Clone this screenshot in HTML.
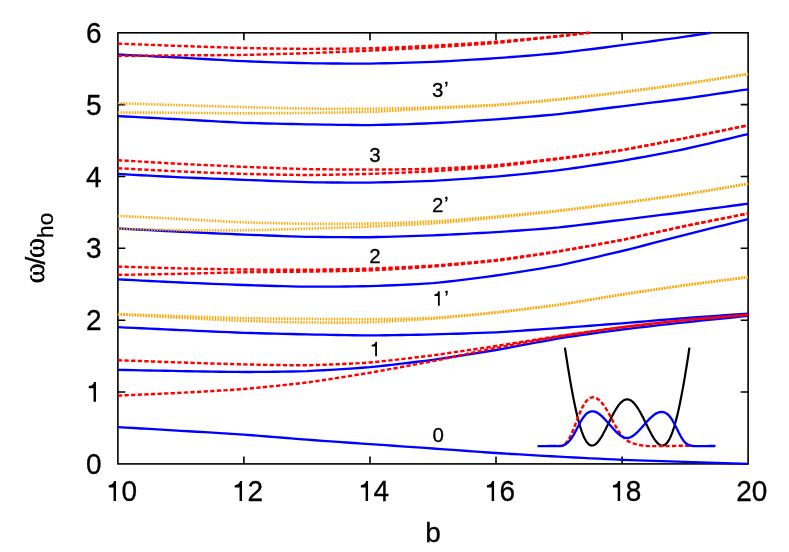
<!DOCTYPE html>
<html><head><meta charset="utf-8"><title>chart</title>
<style>svg text{stroke:#000;stroke-width:0.3px}html,body{margin:0;padding:0;background:#fff}body{width:789px;height:552px;position:relative;overflow:hidden;font-family:"Liberation Sans",sans-serif}</style>
</head><body>
<svg width="789" height="552" viewBox="0 0 789 552" style="position:absolute;left:0;top:0;will-change:transform">
<g stroke="#000" stroke-width="1.6" fill="none">
<rect x="117.9" y="32.8" width="630.2" height="431.1"/>
<path d="M117.9,392.0h7.4 M748.1,392.0h-7.4 M117.9,320.2h7.4 M748.1,320.2h-7.4 M117.9,248.3h7.4 M748.1,248.3h-7.4 M117.9,176.5h7.4 M748.1,176.5h-7.4 M117.9,104.6h7.4 M748.1,104.6h-7.4 M243.9,463.9v-7.4 M243.9,32.8v7.4 M370.0,463.9v-7.4 M370.0,32.8v7.4 M496.0,463.9v-7.4 M496.0,32.8v7.4 M622.1,463.9v-7.4 M622.1,32.8v7.4 "/>
</g>
<g fill="none" stroke-linejoin="round">
<polyline points="117.9,54.50 125.8,54.90 133.7,55.30 141.5,55.69 149.4,56.09 157.3,56.49 165.2,56.89 173.0,57.29 180.9,57.70 188.8,58.14 196.7,58.58 204.6,59.04 212.4,59.49 220.3,59.94 228.2,60.38 236.1,60.80 243.9,61.20 251.8,61.50 259.7,61.78 267.6,62.05 275.4,62.31 283.3,62.55 291.2,62.78 299.1,63.00 307.0,63.20 314.8,63.30 322.7,63.39 330.6,63.47 338.5,63.53 346.3,63.57 354.2,63.60 362.1,63.61 370.0,63.60 377.9,63.45 385.7,63.28 393.6,63.10 401.5,62.89 409.4,62.67 417.2,62.43 425.1,62.17 433.0,61.90 440.9,61.50 448.8,61.07 456.6,60.63 464.5,60.17 472.4,59.70 480.3,59.21 488.1,58.71 496.0,58.20 503.9,57.60 511.8,56.99 519.7,56.37 527.5,55.74 535.4,55.09 543.3,54.42 551.2,53.72 559.0,53.00 566.9,52.10 574.8,51.16 582.7,50.20 590.6,49.21 598.4,48.22 606.3,47.21 614.2,46.20 622.1,45.20 629.9,44.16 637.8,43.12 645.7,42.07 653.6,41.02 661.4,39.96 669.3,38.88 677.2,37.80 685.1,36.70 693.0,35.51 700.8,34.30 708.7,33.08 710.5,32.80" stroke="#0000ff" stroke-width="2.35"/>
<polyline points="117.9,116.10 125.8,116.51 133.7,116.92 141.5,117.34 149.4,117.75 157.3,118.16 165.2,118.57 173.0,118.98 180.9,119.40 188.8,119.83 196.7,120.27 204.6,120.72 212.4,121.16 220.3,121.60 228.2,122.02 236.1,122.42 243.9,122.80 251.8,123.04 259.7,123.26 267.6,123.46 275.4,123.64 283.3,123.81 291.2,123.98 299.1,124.14 307.0,124.30 314.8,124.43 322.7,124.56 330.6,124.69 338.5,124.82 346.3,124.93 354.2,125.01 362.1,125.07 370.0,125.10 377.9,124.94 385.7,124.75 393.6,124.54 401.5,124.31 409.4,124.05 417.2,123.78 425.1,123.50 433.0,123.20 440.9,122.78 448.8,122.34 456.6,121.89 464.5,121.42 472.4,120.93 480.3,120.43 488.1,119.92 496.0,119.40 503.9,118.79 511.8,118.17 519.7,117.53 527.5,116.89 535.4,116.22 543.3,115.54 551.2,114.83 559.0,114.10 566.9,113.19 574.8,112.25 582.7,111.28 590.6,110.29 598.4,109.29 606.3,108.28 614.2,107.28 622.1,106.30 629.9,105.33 637.8,104.37 645.7,103.41 653.6,102.45 661.4,101.48 669.3,100.50 677.2,99.51 685.1,98.50 693.0,97.39 700.8,96.25 708.7,95.11 716.6,93.95 724.5,92.78 732.3,91.62 740.2,90.46 748.1,89.30" stroke="#0000ff" stroke-width="2.35"/>
<polyline points="117.9,174.00 125.8,174.42 133.7,174.84 141.5,175.26 149.4,175.68 157.3,176.09 165.2,176.51 173.0,176.91 180.9,177.30 188.8,177.63 196.7,177.96 204.6,178.27 212.4,178.58 220.3,178.89 228.2,179.19 236.1,179.49 243.9,179.80 251.8,180.11 259.7,180.43 267.6,180.75 275.4,181.07 283.3,181.38 291.2,181.68 299.1,181.95 307.0,182.20 314.8,182.31 322.7,182.40 330.6,182.48 338.5,182.54 346.3,182.58 354.2,182.61 362.1,182.61 370.0,182.60 377.9,182.45 385.7,182.29 393.6,182.11 401.5,181.91 409.4,181.69 417.2,181.45 425.1,181.19 433.0,180.90 440.9,180.44 448.8,179.95 456.6,179.44 464.5,178.91 472.4,178.36 480.3,177.79 488.1,177.20 496.0,176.60 503.9,175.87 511.8,175.12 519.7,174.36 527.5,173.58 535.4,172.77 543.3,171.94 551.2,171.09 559.0,170.20 566.9,169.11 574.8,168.00 582.7,166.85 590.6,165.69 598.4,164.49 606.3,163.28 614.2,162.05 622.1,160.80 629.9,159.40 637.8,157.98 645.7,156.55 653.6,155.09 661.4,153.61 669.3,152.10 677.2,150.57 685.1,149.00 693.0,147.22 700.8,145.39 708.7,143.54 716.6,141.66 724.5,139.76 732.3,137.86 740.2,135.97 748.1,134.10" stroke="#0000ff" stroke-width="2.35"/>
<polyline points="117.9,228.50 125.8,228.91 133.7,229.33 141.5,229.75 149.4,230.17 157.3,230.58 165.2,230.99 173.0,231.40 180.9,231.80 188.8,232.17 196.7,232.53 204.6,232.88 212.4,233.24 220.3,233.59 228.2,233.93 236.1,234.27 243.9,234.60 251.8,234.90 259.7,235.20 267.6,235.49 275.4,235.78 283.3,236.06 291.2,236.33 299.1,236.57 307.0,236.80 314.8,236.91 322.7,237.00 330.6,237.08 338.5,237.14 346.3,237.18 354.2,237.21 362.1,237.21 370.0,237.20 377.9,237.04 385.7,236.85 393.6,236.65 401.5,236.43 409.4,236.19 417.2,235.94 425.1,235.67 433.0,235.40 440.9,235.03 448.8,234.65 456.6,234.26 464.5,233.85 472.4,233.43 480.3,233.00 488.1,232.55 496.0,232.10 503.9,231.56 511.8,231.02 519.7,230.46 527.5,229.90 535.4,229.31 543.3,228.71 551.2,228.07 559.0,227.40 566.9,226.53 574.8,225.61 582.7,224.67 590.6,223.71 598.4,222.73 606.3,221.75 614.2,220.77 622.1,219.80 629.9,218.83 637.8,217.86 645.7,216.90 653.6,215.92 661.4,214.95 669.3,213.97 677.2,212.99 685.1,212.00 693.0,210.98 700.8,209.94 708.7,208.91 716.6,207.87 724.5,206.82 732.3,205.78 740.2,204.74 748.1,203.70" stroke="#0000ff" stroke-width="2.35"/>
<polyline points="117.9,279.40 125.8,279.79 133.7,280.18 141.5,280.58 149.4,280.97 157.3,281.36 165.2,281.75 173.0,282.13 180.9,282.50 188.8,282.83 196.7,283.16 204.6,283.48 212.4,283.80 220.3,284.11 228.2,284.41 236.1,284.71 243.9,285.00 251.8,285.24 259.7,285.49 267.6,285.73 275.4,285.96 283.3,286.17 291.2,286.37 299.1,286.55 307.0,286.70 314.8,286.69 322.7,286.67 330.6,286.62 338.5,286.56 346.3,286.47 354.2,286.37 362.1,286.24 370.0,286.10 377.9,285.82 385.7,285.53 393.6,285.22 401.5,284.89 409.4,284.54 417.2,284.14 425.1,283.70 433.0,283.20 440.9,282.37 448.8,281.49 456.6,280.57 464.5,279.60 472.4,278.60 480.3,277.58 488.1,276.55 496.0,275.50 503.9,274.31 511.8,273.10 519.7,271.87 527.5,270.63 535.4,269.35 543.3,268.04 551.2,266.69 559.0,265.30 566.9,263.63 574.8,261.91 582.7,260.15 590.6,258.36 598.4,256.54 606.3,254.70 614.2,252.85 622.1,251.00 629.9,249.02 637.8,247.02 645.7,244.99 653.6,242.94 661.4,240.90 669.3,238.85 677.2,236.82 685.1,234.80 693.0,232.83 700.8,230.88 708.7,228.93 716.6,226.98 724.5,225.04 732.3,223.09 740.2,221.15 748.1,219.20" stroke="#0000ff" stroke-width="2.35"/>
<polyline points="117.9,327.20 125.8,327.56 133.7,327.93 141.5,328.29 149.4,328.66 157.3,329.02 165.2,329.38 173.0,329.74 180.9,330.10 188.8,330.45 196.7,330.80 204.6,331.15 212.4,331.49 220.3,331.84 228.2,332.17 236.1,332.49 243.9,332.80 251.8,333.03 259.7,333.25 267.6,333.46 275.4,333.66 283.3,333.85 291.2,334.04 299.1,334.22 307.0,334.40 314.8,334.55 322.7,334.70 330.6,334.85 338.5,334.99 346.3,335.12 354.2,335.24 362.1,335.33 370.0,335.40 377.9,335.33 385.7,335.24 393.6,335.13 401.5,335.01 409.4,334.87 417.2,334.72 425.1,334.56 433.0,334.40 440.9,334.17 448.8,333.94 456.6,333.71 464.5,333.46 472.4,333.20 480.3,332.92 488.1,332.62 496.0,332.30 503.9,331.83 511.8,331.34 519.7,330.82 527.5,330.29 535.4,329.75 543.3,329.20 551.2,328.65 559.0,328.10 566.9,327.52 574.8,326.93 582.7,326.33 590.6,325.73 598.4,325.13 606.3,324.52 614.2,323.91 622.1,323.30 629.9,322.66 637.8,322.01 645.7,321.35 653.6,320.69 661.4,320.03 669.3,319.38 677.2,318.73 685.1,318.10 693.0,317.52 700.8,316.95 708.7,316.38 716.6,315.83 724.5,315.27 732.3,314.72 740.2,314.16 748.1,313.60" stroke="#0000ff" stroke-width="2.35"/>
<polyline points="117.9,369.80 125.8,369.96 133.7,370.13 141.5,370.30 149.4,370.46 157.3,370.63 165.2,370.79 173.0,370.95 180.9,371.10 188.8,371.23 196.7,371.36 204.6,371.50 212.4,371.63 220.3,371.74 228.2,371.85 236.1,371.94 243.9,372.00 251.8,371.95 259.7,371.88 267.6,371.81 275.4,371.71 283.3,371.60 291.2,371.46 299.1,371.30 307.0,371.10 314.8,370.70 322.7,370.29 330.6,369.84 338.5,369.37 346.3,368.88 354.2,368.35 362.1,367.79 370.0,367.20 377.9,366.38 385.7,365.52 393.6,364.62 401.5,363.70 409.4,362.76 417.2,361.79 425.1,360.80 433.0,359.80 440.9,358.64 448.8,357.47 456.6,356.27 464.5,355.04 472.4,353.81 480.3,352.55 488.1,351.28 496.0,350.00 503.9,348.59 511.8,347.13 519.7,345.66 527.5,344.17 535.4,342.68 543.3,341.22 551.2,339.79 559.0,338.40 566.9,337.21 574.8,336.05 582.7,334.91 590.6,333.80 598.4,332.70 606.3,331.62 614.2,330.56 622.1,329.50 629.9,328.55 637.8,327.62 645.7,326.71 653.6,325.81 661.4,324.93 669.3,324.05 677.2,323.17 685.1,322.30 693.0,321.48 700.8,320.67 708.7,319.87 716.6,319.07 724.5,318.28 732.3,317.49 740.2,316.70 748.1,315.90" stroke="#0000ff" stroke-width="2.35"/>
<polyline points="117.9,427.10 125.8,427.56 133.7,428.02 141.5,428.49 149.4,428.95 157.3,429.41 165.2,429.87 173.0,430.33 180.9,430.80 188.8,431.27 196.7,431.73 204.6,432.19 212.4,432.65 220.3,433.12 228.2,433.60 236.1,434.09 243.9,434.60 251.8,435.21 259.7,435.83 267.6,436.48 275.4,437.13 283.3,437.78 291.2,438.44 299.1,439.08 307.0,439.70 314.8,440.27 322.7,440.83 330.6,441.38 338.5,441.92 346.3,442.47 354.2,443.01 362.1,443.55 370.0,444.10 377.9,444.65 385.7,445.20 393.6,445.75 401.5,446.30 409.4,446.85 417.2,447.40 425.1,447.95 433.0,448.50 440.9,449.06 448.8,449.63 456.6,450.20 464.5,450.77 472.4,451.34 480.3,451.90 488.1,452.46 496.0,453.00 503.9,453.49 511.8,453.96 519.7,454.43 527.5,454.90 535.4,455.36 543.3,455.81 551.2,456.26 559.0,456.70 566.9,457.11 574.8,457.51 582.7,457.91 590.6,458.31 598.4,458.69 606.3,459.07 614.2,459.44 622.1,459.80 629.9,460.09 637.8,460.36 645.7,460.63 653.6,460.89 661.4,461.14 669.3,461.39 677.2,461.64 685.1,461.90 693.0,462.15 700.8,462.40 708.7,462.65 716.6,462.90 724.5,463.15 732.3,463.40 740.2,463.65 748.1,463.90" stroke="#0000ff" stroke-width="2.35"/>
<polyline points="117.9,43.60 125.8,43.90 133.7,44.21 141.5,44.51 149.4,44.81 157.3,45.12 165.2,45.42 173.0,45.71 180.9,46.00 188.8,46.26 196.7,46.53 204.6,46.79 212.4,47.05 220.3,47.30 228.2,47.55 236.1,47.78 243.9,48.00 251.8,48.15 259.7,48.29 267.6,48.42 275.4,48.54 283.3,48.65 291.2,48.75 299.1,48.83 307.0,48.90 314.8,48.87 322.7,48.83 330.6,48.78 338.5,48.72 346.3,48.64 354.2,48.55 362.1,48.43 370.0,48.30 377.9,48.03 385.7,47.74 393.6,47.44 401.5,47.11 409.4,46.78 417.2,46.43 425.1,46.07 433.0,45.70 440.9,45.25 448.8,44.80 456.6,44.34 464.5,43.86 472.4,43.37 480.3,42.87 488.1,42.34 496.0,41.80 503.9,41.13 511.8,40.44 519.7,39.73 527.5,39.01 535.4,38.27 543.3,37.52 551.2,36.76 559.0,36.00 566.9,35.16 574.8,34.30 582.7,33.42 588.2,32.80" stroke="#ff0000" stroke-width="2.45" stroke-dasharray="4.3 2.3"/>
<polyline points="117.9,55.90 125.8,55.84 133.7,55.77 141.5,55.71 149.4,55.65 157.3,55.59 165.2,55.52 173.0,55.46 180.9,55.40 188.8,55.34 196.7,55.29 204.6,55.24 212.4,55.19 220.3,55.14 228.2,55.07 236.1,54.99 243.9,54.90 251.8,54.72 259.7,54.53 267.6,54.33 275.4,54.12 283.3,53.90 291.2,53.68 299.1,53.44 307.0,53.20 314.8,52.90 322.7,52.59 330.6,52.28 338.5,51.96 346.3,51.62 354.2,51.29 362.1,50.95 370.0,50.60 377.9,50.21 385.7,49.81 393.6,49.41 401.5,49.01 409.4,48.59 417.2,48.17 425.1,47.74 433.0,47.30 440.9,46.80 448.8,46.29 456.6,45.79 464.5,45.27 472.4,44.73 480.3,44.18 488.1,43.60 496.0,43.00 503.9,42.23 511.8,41.42 519.7,40.60 527.5,39.75 535.4,38.89 543.3,38.03 551.2,37.16 559.0,36.30 566.9,35.41 574.8,34.52 582.7,33.62 589.8,32.80" stroke="#ff0000" stroke-width="2.45" stroke-dasharray="4.3 2.3"/>
<polyline points="117.9,160.20 125.8,160.67 133.7,161.14 141.5,161.61 149.4,162.08 157.3,162.54 165.2,163.01 173.0,163.46 180.9,163.90 188.8,164.29 196.7,164.66 204.6,165.03 212.4,165.40 220.3,165.76 228.2,166.11 236.1,166.46 243.9,166.80 251.8,167.11 259.7,167.42 267.6,167.73 275.4,168.03 283.3,168.32 291.2,168.60 299.1,168.86 307.0,169.10 314.8,169.21 322.7,169.31 330.6,169.39 338.5,169.46 346.3,169.51 354.2,169.55 362.1,169.58 370.0,169.60 377.9,169.54 385.7,169.49 393.6,169.42 401.5,169.34 409.4,169.24 417.2,169.13 425.1,168.98 433.0,168.80 440.9,168.44 448.8,168.05 456.6,167.64 464.5,167.21 472.4,166.75 480.3,166.26 488.1,165.75 496.0,165.20 503.9,164.43 511.8,163.62 519.7,162.78 527.5,161.92 535.4,161.03 543.3,160.13 551.2,159.21 559.0,158.30 566.9,157.30 574.8,156.30 582.7,155.29 590.6,154.27 598.4,153.22 606.3,152.15 614.2,151.05 622.1,149.90 629.9,148.52 637.8,147.09 645.7,145.64 653.6,144.15 661.4,142.65 669.3,141.13 677.2,139.61 685.1,138.10 693.0,136.53 700.8,134.94 708.7,133.34 716.6,131.73 724.5,130.12 732.3,128.51 740.2,126.90 748.1,125.30" stroke="#ff0000" stroke-width="2.45" stroke-dasharray="4.3 2.3"/>
<polyline points="117.9,168.20 125.8,168.62 133.7,169.04 141.5,169.46 149.4,169.88 157.3,170.30 165.2,170.71 173.0,171.11 180.9,171.50 188.8,171.83 196.7,172.15 204.6,172.47 212.4,172.78 220.3,173.07 228.2,173.36 236.1,173.64 243.9,173.90 251.8,174.08 259.7,174.25 267.6,174.42 275.4,174.57 283.3,174.71 291.2,174.83 299.1,174.93 307.0,175.00 314.8,174.93 322.7,174.83 330.6,174.71 338.5,174.58 346.3,174.43 354.2,174.27 362.1,174.09 370.0,173.90 377.9,173.61 385.7,173.31 393.6,173.00 401.5,172.67 409.4,172.33 417.2,171.97 425.1,171.60 433.0,171.20 440.9,170.68 448.8,170.14 456.6,169.59 464.5,169.02 472.4,168.43 480.3,167.81 488.1,167.17 496.0,166.50 503.9,165.63 511.8,164.73 519.7,163.80 527.5,162.84 535.4,161.87 543.3,160.88 551.2,159.89 559.0,158.90 566.9,157.84 574.8,156.79 582.7,155.73 590.6,154.65 598.4,153.56 606.3,152.44 614.2,151.29 622.1,150.10 629.9,148.69 637.8,147.23 645.7,145.75 653.6,144.24 661.4,142.71 669.3,141.17 677.2,139.63 685.1,138.10 693.0,136.52 700.8,134.93 708.7,133.33 716.6,131.73 724.5,130.12 732.3,128.51 740.2,126.90 748.1,125.30" stroke="#ff0000" stroke-width="2.45" stroke-dasharray="4.3 2.3"/>
<polyline points="117.9,266.60 125.8,266.83 133.7,267.06 141.5,267.29 149.4,267.52 157.3,267.75 165.2,267.98 173.0,268.19 180.9,268.40 188.8,268.56 196.7,268.71 204.6,268.86 212.4,269.00 220.3,269.14 228.2,269.26 236.1,269.39 243.9,269.50 251.8,269.56 259.7,269.63 267.6,269.68 275.4,269.73 283.3,269.77 291.2,269.79 299.1,269.80 307.0,269.80 314.8,269.70 322.7,269.58 330.6,269.45 338.5,269.31 346.3,269.16 354.2,268.99 362.1,268.80 370.0,268.60 377.9,268.28 385.7,267.95 393.6,267.61 401.5,267.25 409.4,266.87 417.2,266.47 425.1,266.05 433.0,265.60 440.9,264.98 448.8,264.34 456.6,263.68 464.5,263.00 472.4,262.30 480.3,261.56 488.1,260.80 496.0,260.00 503.9,258.98 511.8,257.93 519.7,256.85 527.5,255.74 535.4,254.61 543.3,253.46 551.2,252.29 559.0,251.10 566.9,249.77 574.8,248.42 582.7,247.06 590.6,245.67 598.4,244.26 606.3,242.83 614.2,241.38 622.1,239.90 629.9,238.23 637.8,236.51 645.7,234.76 653.6,232.99 661.4,231.22 669.3,229.46 677.2,227.71 685.1,226.00 693.0,224.40 700.8,222.82 708.7,221.26 716.6,219.70 724.5,218.15 732.3,216.61 740.2,215.06 748.1,213.50" stroke="#ff0000" stroke-width="2.45" stroke-dasharray="4.3 2.3"/>
<polyline points="117.9,274.90 125.8,274.76 133.7,274.63 141.5,274.50 149.4,274.37 157.3,274.23 165.2,274.09 173.0,273.95 180.9,273.80 188.8,273.61 196.7,273.41 204.6,273.20 212.4,272.98 220.3,272.77 228.2,272.57 236.1,272.38 243.9,272.20 251.8,272.10 259.7,272.02 267.6,271.95 275.4,271.89 283.3,271.83 291.2,271.76 299.1,271.69 307.0,271.60 314.8,271.48 322.7,271.36 330.6,271.24 338.5,271.11 346.3,270.97 354.2,270.81 362.1,270.62 370.0,270.40 377.9,270.00 385.7,269.58 393.6,269.13 401.5,268.66 409.4,268.17 417.2,267.66 425.1,267.14 433.0,266.60 440.9,265.94 448.8,265.27 456.6,264.59 464.5,263.89 472.4,263.16 480.3,262.41 488.1,261.62 496.0,260.80 503.9,259.74 511.8,258.64 519.7,257.51 527.5,256.35 535.4,255.16 543.3,253.96 551.2,252.74 559.0,251.50 566.9,250.12 574.8,248.72 582.7,247.30 590.6,245.86 598.4,244.40 606.3,242.92 614.2,241.42 622.1,239.90 629.9,238.22 637.8,236.50 645.7,234.75 653.6,232.98 661.4,231.21 669.3,229.45 677.2,227.71 685.1,226.00 693.0,224.40 700.8,222.82 708.7,221.26 716.6,219.70 724.5,218.15 732.3,216.61 740.2,215.06 748.1,213.50" stroke="#ff0000" stroke-width="2.45" stroke-dasharray="4.3 2.3"/>
<polyline points="117.9,360.20 125.8,360.49 133.7,360.78 141.5,361.07 149.4,361.36 157.3,361.65 165.2,361.94 173.0,362.22 180.9,362.50 188.8,362.75 196.7,363.00 204.6,363.25 212.4,363.50 220.3,363.74 228.2,363.97 236.1,364.19 243.9,364.40 251.8,364.55 259.7,364.71 267.6,364.87 275.4,365.01 283.3,365.14 291.2,365.23 299.1,365.29 307.0,365.30 314.8,365.06 322.7,364.80 330.6,364.51 338.5,364.18 346.3,363.82 354.2,363.42 362.1,362.98 370.0,362.50 377.9,361.72 385.7,360.90 393.6,360.03 401.5,359.12 409.4,358.19 417.2,357.24 425.1,356.27 433.0,355.30 440.9,354.20 448.8,353.07 456.6,351.91 464.5,350.75 472.4,349.57 480.3,348.38 488.1,347.19 496.0,346.00 503.9,344.76 511.8,343.51 519.7,342.25 527.5,340.98 535.4,339.72 543.3,338.46 551.2,337.22 559.0,336.00 566.9,334.86 574.8,333.73 582.7,332.61 590.6,331.50 598.4,330.40 606.3,329.32 614.2,328.25 622.1,327.20 629.9,326.26 637.8,325.34 645.7,324.43 653.6,323.53 661.4,322.65 669.3,321.78 677.2,320.93 685.1,320.10 693.0,319.39 700.8,318.71 708.7,318.04 716.6,317.39 724.5,316.74 732.3,316.10 740.2,315.46 748.1,314.80" stroke="#ff0000" stroke-width="2.45" stroke-dasharray="4.3 2.3"/>
<polyline points="117.9,395.60 125.8,395.25 133.7,394.91 141.5,394.57 149.4,394.23 157.3,393.89 165.2,393.54 173.0,393.18 180.9,392.80 188.8,392.36 196.7,391.92 204.6,391.48 212.4,391.03 220.3,390.56 228.2,390.07 236.1,389.55 243.9,389.00 251.8,388.27 259.7,387.52 267.6,386.75 275.4,385.96 283.3,385.14 291.2,384.29 299.1,383.41 307.0,382.50 314.8,381.37 322.7,380.20 330.6,379.00 338.5,377.78 346.3,376.53 354.2,375.26 362.1,373.98 370.0,372.70 377.9,371.30 385.7,369.89 393.6,368.46 401.5,367.02 409.4,365.56 417.2,364.09 425.1,362.60 433.0,361.10 440.9,359.47 448.8,357.81 456.6,356.13 464.5,354.44 472.4,352.75 480.3,351.07 488.1,349.42 496.0,347.80 503.9,346.33 511.8,344.87 519.7,343.43 527.5,342.01 535.4,340.61 543.3,339.22 551.2,337.85 559.0,336.50 566.9,335.28 574.8,334.07 582.7,332.88 590.6,331.71 598.4,330.55 606.3,329.41 614.2,328.30 622.1,327.20 629.9,326.25 637.8,325.32 645.7,324.41 653.6,323.51 661.4,322.64 669.3,321.78 677.2,320.93 685.1,320.10 693.0,319.39 700.8,318.71 708.7,318.04 716.6,317.39 724.5,316.74 732.3,316.10 740.2,315.46 748.1,314.80" stroke="#ff0000" stroke-width="2.45" stroke-dasharray="4.3 2.3"/>
<polyline points="117.9,103.20 125.8,103.45 133.7,103.70 141.5,103.95 149.4,104.20 157.3,104.45 165.2,104.70 173.0,104.95 180.9,105.20 188.8,105.44 196.7,105.68 204.6,105.93 212.4,106.17 220.3,106.41 228.2,106.64 236.1,106.87 243.9,107.10 251.8,107.30 259.7,107.51 267.6,107.71 275.4,107.91 283.3,108.10 291.2,108.28 299.1,108.45 307.0,108.60 314.8,108.67 322.7,108.72 330.6,108.77 338.5,108.80 346.3,108.82 354.2,108.83 362.1,108.82 370.0,108.80 377.9,108.67 385.7,108.53 393.6,108.37 401.5,108.20 409.4,108.01 417.2,107.82 425.1,107.61 433.0,107.40 440.9,107.12 448.8,106.83 456.6,106.54 464.5,106.24 472.4,105.92 480.3,105.58 488.1,105.21 496.0,104.80 503.9,104.19 511.8,103.56 519.7,102.89 527.5,102.20 535.4,101.50 543.3,100.77 551.2,100.04 559.0,99.30 566.9,98.46 574.8,97.60 582.7,96.73 590.6,95.85 598.4,94.95 606.3,94.05 614.2,93.13 622.1,92.20 629.9,91.19 637.8,90.17 645.7,89.14 653.6,88.09 661.4,87.04 669.3,85.97 677.2,84.89 685.1,83.80 693.0,82.61 700.8,81.40 708.7,80.18 716.6,78.95 724.5,77.71 732.3,76.47 740.2,75.23 748.1,74.00" stroke="#ffa500" stroke-width="2.65" stroke-dasharray="1.4 1.37"/>
<polyline points="117.9,112.50 125.8,112.54 133.7,112.57 141.5,112.61 149.4,112.64 157.3,112.68 165.2,112.71 173.0,112.75 180.9,112.80 188.8,112.87 196.7,112.95 204.6,113.04 212.4,113.13 220.3,113.21 228.2,113.29 236.1,113.35 243.9,113.40 251.8,113.37 259.7,113.32 267.6,113.27 275.4,113.21 283.3,113.13 291.2,113.06 299.1,112.98 307.0,112.90 314.8,112.80 322.7,112.70 330.6,112.60 338.5,112.50 346.3,112.38 354.2,112.25 362.1,112.09 370.0,111.90 377.9,111.54 385.7,111.14 393.6,110.72 401.5,110.28 409.4,109.82 417.2,109.37 425.1,108.93 433.0,108.50 440.9,108.10 448.8,107.73 456.6,107.35 464.5,106.98 472.4,106.60 480.3,106.20 488.1,105.77 496.0,105.30 503.9,104.65 511.8,103.97 519.7,103.27 527.5,102.54 535.4,101.80 543.3,101.04 551.2,100.27 559.0,99.50 566.9,98.63 574.8,97.75 582.7,96.85 590.6,95.94 598.4,95.02 606.3,94.09 614.2,93.15 622.1,92.20 629.9,91.18 637.8,90.16 645.7,89.13 653.6,88.09 661.4,87.03 669.3,85.97 677.2,84.89 685.1,83.80 693.0,82.61 700.8,81.40 708.7,80.18 716.6,78.95 724.5,77.71 732.3,76.47 740.2,75.23 748.1,74.00" stroke="#ffa500" stroke-width="2.65" stroke-dasharray="1.4 1.37"/>
<polyline points="117.9,215.90 125.8,216.29 133.7,216.67 141.5,217.06 149.4,217.44 157.3,217.83 165.2,218.22 173.0,218.61 180.9,219.00 188.8,219.41 196.7,219.84 204.6,220.27 212.4,220.71 220.3,221.13 228.2,221.54 236.1,221.93 243.9,222.30 251.8,222.54 259.7,222.77 267.6,222.98 275.4,223.17 283.3,223.35 291.2,223.51 299.1,223.66 307.0,223.80 314.8,223.83 322.7,223.84 330.6,223.84 338.5,223.83 346.3,223.80 354.2,223.75 362.1,223.68 370.0,223.60 377.9,223.39 385.7,223.16 393.6,222.92 401.5,222.66 409.4,222.38 417.2,222.08 425.1,221.75 433.0,221.40 440.9,220.87 448.8,220.32 456.6,219.74 464.5,219.13 472.4,218.52 480.3,217.88 488.1,217.24 496.0,216.60 503.9,215.88 511.8,215.15 519.7,214.40 527.5,213.65 535.4,212.88 543.3,212.10 551.2,211.31 559.0,210.50 566.9,209.58 574.8,208.65 582.7,207.70 590.6,206.73 598.4,205.76 606.3,204.78 614.2,203.79 622.1,202.80 629.9,201.77 637.8,200.73 645.7,199.69 653.6,198.65 661.4,197.59 669.3,196.51 677.2,195.42 685.1,194.30 693.0,193.04 700.8,191.75 708.7,190.44 716.6,189.12 724.5,187.79 732.3,186.45 740.2,185.12 748.1,183.80" stroke="#ffa500" stroke-width="2.65" stroke-dasharray="1.4 1.37"/>
<polyline points="117.9,228.70 125.8,228.91 133.7,229.12 141.5,229.34 149.4,229.55 157.3,229.76 165.2,229.96 173.0,230.14 180.9,230.30 188.8,230.35 196.7,230.38 204.6,230.40 212.4,230.41 220.3,230.40 228.2,230.38 236.1,230.35 243.9,230.30 251.8,230.14 259.7,229.97 267.6,229.78 275.4,229.57 283.3,229.36 291.2,229.14 299.1,228.92 307.0,228.70 314.8,228.45 322.7,228.21 330.6,227.96 338.5,227.70 346.3,227.44 354.2,227.17 362.1,226.89 370.0,226.60 377.9,226.24 385.7,225.88 393.6,225.51 401.5,225.13 409.4,224.73 417.2,224.31 425.1,223.87 433.0,223.40 440.9,222.75 448.8,222.06 456.6,221.35 464.5,220.62 472.4,219.87 480.3,219.11 488.1,218.36 496.0,217.60 503.9,216.80 511.8,216.00 519.7,215.19 527.5,214.38 535.4,213.55 543.3,212.72 551.2,211.87 559.0,211.00 566.9,210.03 574.8,209.04 582.7,208.04 590.6,207.02 598.4,205.99 606.3,204.96 614.2,203.93 622.1,202.90 629.9,201.85 637.8,200.79 645.7,199.74 653.6,198.68 661.4,197.61 669.3,196.53 677.2,195.43 685.1,194.30 693.0,193.04 700.8,191.75 708.7,190.44 716.6,189.12 724.5,187.78 732.3,186.45 740.2,185.12 748.1,183.80" stroke="#ffa500" stroke-width="2.65" stroke-dasharray="1.4 1.37"/>
<polyline points="117.9,314.10 125.8,314.36 133.7,314.63 141.5,314.89 149.4,315.15 157.3,315.42 165.2,315.68 173.0,315.94 180.9,316.20 188.8,316.46 196.7,316.72 204.6,316.99 212.4,317.25 220.3,317.50 228.2,317.75 236.1,317.98 243.9,318.20 251.8,318.32 259.7,318.43 267.6,318.52 275.4,318.61 283.3,318.69 291.2,318.76 299.1,318.83 307.0,318.90 314.8,318.95 322.7,319.01 330.6,319.07 338.5,319.12 346.3,319.16 354.2,319.19 362.1,319.21 370.0,319.20 377.9,319.10 385.7,318.99 393.6,318.88 401.5,318.75 409.4,318.59 417.2,318.40 425.1,318.18 433.0,317.90 440.9,317.34 448.8,316.74 456.6,316.10 464.5,315.42 472.4,314.72 480.3,314.00 488.1,313.25 496.0,312.50 503.9,311.60 511.8,310.67 519.7,309.73 527.5,308.76 535.4,307.78 543.3,306.77 551.2,305.75 559.0,304.70 566.9,303.48 574.8,302.23 582.7,300.95 590.6,299.65 598.4,298.35 606.3,297.05 614.2,295.76 622.1,294.50 629.9,293.31 637.8,292.12 645.7,290.95 653.6,289.78 661.4,288.62 669.3,287.47 677.2,286.33 685.1,285.20 693.0,284.16 700.8,283.13 708.7,282.11 716.6,281.11 724.5,280.11 732.3,279.11 740.2,278.11 748.1,277.10" stroke="#ffa500" stroke-width="2.65" stroke-dasharray="1.4 1.37"/>
<polyline points="117.9,314.40 125.8,314.83 133.7,315.25 141.5,315.68 149.4,316.11 157.3,316.54 165.2,316.96 173.0,317.38 180.9,317.80 188.8,318.20 196.7,318.61 204.6,319.01 212.4,319.41 220.3,319.81 228.2,320.19 236.1,320.55 243.9,320.90 251.8,321.15 259.7,321.38 267.6,321.60 275.4,321.81 283.3,322.01 291.2,322.19 299.1,322.35 307.0,322.50 314.8,322.54 322.7,322.56 330.6,322.58 338.5,322.58 346.3,322.56 354.2,322.51 362.1,322.42 370.0,322.30 377.9,321.94 385.7,321.54 393.6,321.11 401.5,320.65 409.4,320.17 417.2,319.66 425.1,319.14 433.0,318.60 440.9,317.91 448.8,317.19 456.6,316.45 464.5,315.69 472.4,314.91 480.3,314.12 488.1,313.32 496.0,312.50 503.9,311.58 511.8,310.65 519.7,309.70 527.5,308.74 535.4,307.76 543.3,306.76 551.2,305.74 559.0,304.70 566.9,303.48 574.8,302.23 582.7,300.95 590.6,299.65 598.4,298.35 606.3,297.05 614.2,295.76 622.1,294.50 629.9,293.31 637.8,292.12 645.7,290.95 653.6,289.78 661.4,288.62 669.3,287.47 677.2,286.33 685.1,285.20 693.0,284.16 700.8,283.13 708.7,282.11 716.6,281.11 724.5,280.11 732.3,279.11 740.2,278.11 748.1,277.10" stroke="#ffa500" stroke-width="2.65" stroke-dasharray="1.4 1.37"/>
</g>
<g fill="none" stroke-linejoin="round">
<polyline points="564.9,347.68 566.3,356.74 567.7,365.58 569.1,374.14 570.5,382.36 571.9,390.19 573.3,397.6 574.7,404.54 576.1,410.99 577.5,416.91 578.9,422.3 580.3,427.13 581.7,431.39 583.1,435.08 584.5,438.2 585.9,440.76 587.3,442.75 588.7,444.21 590.1,445.14 591.5,445.57 592.9,445.52 594.3,445.02 595.7,444.12 597.1,442.83 598.5,441.2 599.9,439.27 601.3,437.08 602.7,434.68 604.1,432.09 605.5,429.38 606.9,426.58 608.3,423.74 609.7,420.89 611.1,418.08 612.5,415.35 613.9,412.74 615.3,410.28 616.7,408.01 618.1,405.95 619.5,404.13 620.9,402.58 622.3,401.32 623.7,400.35 625.1,399.71 626.5,399.38 627.9,399.38 629.3,399.71 630.7,400.36 632.1,401.32 633.5,402.59 634.9,404.14 636.3,405.96 637.7,408.02 639.1,410.29 640.5,412.75 641.9,415.36 643.3,418.09 644.7,420.9 646.1,423.75 647.5,426.59 648.9,429.39 650.3,432.1 651.7,434.69 653.1,437.09 654.5,439.28 655.9,441.21 657.3,442.84 658.7,444.12 660.1,445.03 661.5,445.52 662.9,445.56 664.3,445.13 665.7,444.2 667.1,442.75 668.5,440.75 669.9,438.19 671.3,435.07 672.7,431.38 674.1,427.11 675.5,422.28 676.9,416.89 678.3,410.96 679.7,404.51 681.1,397.57 682.5,390.16 683.9,382.33 685.3,374.11 686.7,365.55 688.1,356.71 689.4,347.65" stroke="#000" stroke-width="2.2"/>
<polyline points="559.0,445.73 561.0,446.06 563.0,445.53 565.0,444.15 567.0,441.92 569.0,438.86 571.0,434.96 573.0,430.35 575.0,425.29 577.0,420.06 579.0,414.93 581.0,410.19 583.0,406.09 585.0,402.82 587.0,400.34 589.0,398.62 591.0,397.61 593.0,397.27 595.0,397.57 597.0,398.46 599.0,399.9 601.0,401.85 603.0,404.27 605.0,407.12 607.0,410.35 609.0,413.88 611.0,417.58 613.0,421.35 615.0,425.06 617.0,428.59 619.0,431.82 621.0,434.63 623.0,436.97 625.0,438.88 627.0,440.41 629.0,441.63 631.0,442.58 633.0,443.33 635.0,443.93 637.0,444.44 639.0,444.88 641.0,445.26 643.0,445.57 645.0,445.83 647.0,446.04 649.0,446.1 651.0,446.1 653.0,446.1 655.0,446.1 657.0,446.1 659.0,446.1 661.0,446.1 663.0,446.1 665.0,446.1 667.0,446.1 669.0,446.1 671.0,446.03 673.0,445.95 675.0,445.88 677.0,445.83 679.0,445.79 681.0,445.77 683.0,445.77 685.0,445.81 687.0,445.88 689.0,445.99 691.0,446.1" stroke="#ff0000" stroke-width="2.45" stroke-dasharray="4.3 2.3"/>
<polyline points="537.5,446.09 539.5,446.1 541.5,446.1 543.5,446.1 545.5,446.1 547.5,446.09 549.5,446.04 551.5,446.0 553.5,445.99 555.5,446.03 557.5,446.08 559.5,446.05 561.5,445.82 563.5,445.28 565.5,444.33 567.5,442.84 569.5,440.8 571.5,438.2 573.5,435.07 575.5,431.43 577.5,427.51 579.5,423.69 581.5,420.22 583.5,417.2 585.5,414.73 587.5,412.93 589.5,411.8 591.5,411.3 593.5,411.35 595.5,411.9 597.5,412.89 599.5,414.24 601.5,415.91 603.5,417.83 605.5,419.94 607.5,422.18 609.5,424.48 611.5,426.79 613.5,429.03 615.5,431.16 617.5,433.11 619.5,434.82 621.5,436.22 623.5,437.26 625.5,437.87 627.5,437.99 629.5,437.59 631.5,436.74 633.5,435.49 635.5,433.9 637.5,432.05 639.5,430.0 641.5,427.8 643.5,425.53 645.5,423.25 647.5,421.02 649.5,418.91 651.5,416.98 653.5,415.29 655.5,413.89 657.5,412.82 659.5,412.13 661.5,411.88 663.5,412.11 665.5,412.87 667.5,414.21 669.5,416.18 671.5,418.82 673.5,422.16 675.5,425.98 677.5,430.02 679.5,434.0 681.5,437.66 683.5,440.72 685.5,442.95 687.5,444.4 689.5,445.27 691.5,445.73 693.5,445.96 695.5,446.1 697.5,446.1 699.5,446.1 701.5,446.1 703.5,446.1 705.5,446.1 707.5,446.05 709.5,446.01 711.5,446.0 713.5,446.02 715.5,446.1" stroke="#0000ff" stroke-width="2.35"/>
</g>
<g font-family="Liberation Sans, sans-serif" font-size="28" fill="#000">
<text transform="translate(85.93,473.90) scale(1,1.055)" font-size="28">0</text>
<path transform="translate(85.93,401.75) scale(1.0000)" d="M7.6,0 L10.05,0 L10.05,-19.85 L8.1,-19.85 C7.5,-17.3 5.8,-15.8 2.83,-15.7 L2.83,-13.4 L7.6,-13.4 Z"/>
<text transform="translate(85.93,330.20) scale(1,1.055)" font-size="28">2</text>
<text transform="translate(85.93,258.35) scale(1,1.055)" font-size="28">3</text>
<text transform="translate(85.93,186.50) scale(1,1.055)" font-size="28">4</text>
<text transform="translate(85.93,114.65) scale(1,1.055)" font-size="28">5</text>
<text transform="translate(85.93,42.80) scale(1,1.055)" font-size="28">6</text>
<path transform="translate(105.93,500.90) scale(1.0000)" d="M7.6,0 L10.05,0 L10.05,-19.85 L8.1,-19.85 C7.5,-17.3 5.8,-15.8 2.83,-15.7 L2.83,-13.4 L7.6,-13.4 Z"/><text transform="translate(121.50,501.20) scale(1,1.055)" font-size="28">0</text>
<path transform="translate(231.97,500.90) scale(1.0000)" d="M7.6,0 L10.05,0 L10.05,-19.85 L8.1,-19.85 C7.5,-17.3 5.8,-15.8 2.83,-15.7 L2.83,-13.4 L7.6,-13.4 Z"/><text transform="translate(247.54,501.20) scale(1,1.055)" font-size="28">2</text>
<path transform="translate(358.01,500.90) scale(1.0000)" d="M7.6,0 L10.05,0 L10.05,-19.85 L8.1,-19.85 C7.5,-17.3 5.8,-15.8 2.83,-15.7 L2.83,-13.4 L7.6,-13.4 Z"/><text transform="translate(373.58,501.20) scale(1,1.055)" font-size="28">4</text>
<path transform="translate(484.05,500.90) scale(1.0000)" d="M7.6,0 L10.05,0 L10.05,-19.85 L8.1,-19.85 C7.5,-17.3 5.8,-15.8 2.83,-15.7 L2.83,-13.4 L7.6,-13.4 Z"/><text transform="translate(499.62,501.20) scale(1,1.055)" font-size="28">6</text>
<path transform="translate(610.09,500.90) scale(1.0000)" d="M7.6,0 L10.05,0 L10.05,-19.85 L8.1,-19.85 C7.5,-17.3 5.8,-15.8 2.83,-15.7 L2.83,-13.4 L7.6,-13.4 Z"/><text transform="translate(625.66,501.20) scale(1,1.055)" font-size="28">8</text>
<text transform="translate(736.13,501.20) scale(1,1.055)" font-size="28">2</text><text transform="translate(751.70,501.20) scale(1,1.055)" font-size="28">0</text>
<text x="425.22" y="542.20" font-size="28">b</text>
<g transform="translate(44.6,282.2) rotate(-90) scale(1,-1)" fill="none" stroke="#000" stroke-linecap="round" stroke-linejoin="round"><path d="M6.3,13.5 C4.0,14.3 1.1,12.0 1.1,7.3 C1.1,3.0 2.6,1.0 4.9,1.0 C7.0,1.0 8.3,2.6 8.85,4.6 L8.85,10.6 L8.85,4.6 C9.4,2.6 10.7,1.0 12.8,1.0 C15.1,1.0 16.6,3.0 16.6,7.3 C16.6,12.0 13.7,14.3 11.4,13.5" stroke-width="1.8"/><path d="M1.9,10.9 C1.3,9.8 1.2,8.5 1.2,7.3 C1.2,5.0 1.6,3.5 2.5,2.3 M15.8,10.9 C16.4,9.8 16.5,8.5 16.5,7.3 C16.5,5.0 16.1,3.5 15.2,2.3 M8.85,6.8 L8.85,10.3" stroke-width="2.8"/></g>
<g transform="translate(44.6,256.9) rotate(-90) scale(1,-1)" fill="none" stroke="#000" stroke-linecap="round" stroke-linejoin="round"><path d="M6.3,13.5 C4.0,14.3 1.1,12.0 1.1,7.3 C1.1,3.0 2.6,1.0 4.9,1.0 C7.0,1.0 8.3,2.6 8.85,4.6 L8.85,10.6 L8.85,4.6 C9.4,2.6 10.7,1.0 12.8,1.0 C15.1,1.0 16.6,3.0 16.6,7.3 C16.6,12.0 13.7,14.3 11.4,13.5" stroke-width="1.8"/><path d="M1.9,10.9 C1.3,9.8 1.2,8.5 1.2,7.3 C1.2,5.0 1.6,3.5 2.5,2.3 M15.8,10.9 C16.4,9.8 16.5,8.5 16.5,7.3 C16.5,5.0 16.1,3.5 15.2,2.3 M8.85,6.8 L8.85,10.3" stroke-width="2.8"/></g>
<text transform="translate(44.5,264.6) rotate(-90)" x="0" y="0">/</text>
<text transform="translate(53.0,237.9) rotate(-90)" x="0" y="0" font-size="22.6">ho</text>
</g>
<g font-family="Liberation Sans, sans-serif" font-size="20.5" fill="#000">
<text transform="translate(432.00,97.30) scale(1,1.015)" font-size="20.5">3</text><text x="443.90" y="96.00" font-size="20.5">’</text>
<text transform="translate(369.20,162.20) scale(1,1.015)" font-size="20.5">3</text>
<text transform="translate(432.00,212.30) scale(1,1.015)" font-size="20.5">2</text><text x="443.90" y="211.00" font-size="20.5">’</text>
<text transform="translate(369.20,262.60) scale(1,1.015)" font-size="20.5">2</text>
<path transform="translate(432.40,305.70) scale(0.7321)" d="M7.6,0 L10.05,0 L10.05,-19.85 L8.1,-19.85 C7.5,-17.3 5.8,-15.8 2.83,-15.7 L2.83,-13.4 L7.6,-13.4 Z"/><text x="444.30" y="304.70" font-size="20.5">’</text>
<path transform="translate(369.60,356.20) scale(0.7321)" d="M7.6,0 L10.05,0 L10.05,-19.85 L8.1,-19.85 C7.5,-17.3 5.8,-15.8 2.83,-15.7 L2.83,-13.4 L7.6,-13.4 Z"/>
<text transform="translate(432.50,442.40) scale(1,1.015)" font-size="20.5">0</text>
</g>
</svg>
</body></html>
